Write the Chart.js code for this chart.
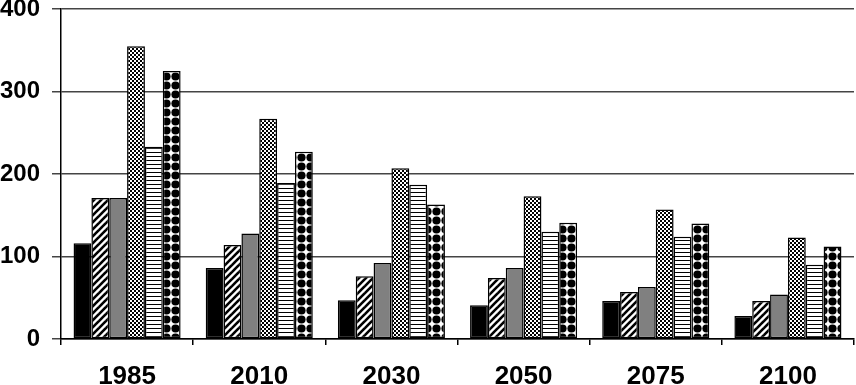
<!DOCTYPE html>
<html>
<head>
<meta charset="utf-8">
<script src="https://cdn.jsdelivr.net/npm/chart.js@4/dist/chart.umd.min.js"></script>
<style>
  html, body { margin: 0; padding: 0; background: #fff; }
  #wrap { width: 856px; height: 385px; }
</style>
</head>
<body>
<div id="wrap"><canvas id="chart" width="856" height="385"></canvas></div>
<script>
// data
const years = ['1985', '2010', '2030', '2050', '2075', '2100'];
const seriesA = [116, 86, 47, 41, 46, 28];       // solid black
const seriesB = [171, 114, 76, 74, 57, 46];      // diagonal hatch
const seriesC = [171, 128, 92, 86, 63, 54];      // solid grey
const seriesD = [355, 267, 207, 173, 157, 123];  // fine checker
const seriesE = [233, 189, 187, 130, 124, 90];   // horizontal lines
const seriesF = [325, 227, 163, 141, 140, 112];  // dots
const yTicks = [0, 100, 200, 300, 400];

function makePattern(size, draw) {
    const c = document.createElement('canvas');
    c.width = size; c.height = size;
    const ctx = c.getContext('2d');
    ctx.fillStyle = '#fff';
    ctx.fillRect(0, 0, size, size);
    ctx.fillStyle = '#000';
    ctx.strokeStyle = '#000';
    draw(ctx, size);
    return ctx.createPattern(c, 'repeat');
}

const hatch = makePattern(7, (ctx, s) => {
    ctx.lineWidth = 2.6;
    for (let k = -1; k <= 1; k++) {
        ctx.beginPath();
        ctx.moveTo(k * s - 1, s + 1);
        ctx.lineTo(k * s + s + 1, -1);
        ctx.stroke();
    }
});

const checker = makePattern(4, (ctx) => {
    ctx.fillRect(0, 0, 2, 2);
    ctx.fillRect(2, 2, 2, 2);
});

const hlines = makePattern(4, (ctx) => {
    ctx.fillRect(0, 0, 4, 1);
});

const dots = makePattern(9, (ctx) => {
    ctx.beginPath();
    ctx.arc(4.5, 4.5, 4.1, 0, Math.PI * 2);
    ctx.fill();
});

const fills = ['#000', hatch, '#808080', checker, hlines, dots];
const seriesList = [seriesA, seriesB, seriesC, seriesD, seriesE, seriesF];

const FAMILY = '"Liberation Sans", Arial, sans-serif';

new Chart(document.getElementById('chart'), {
    type: 'bar',
    data: {
        labels: years,
        datasets: seriesList.map((values, i) => ({
            data: values,
            backgroundColor: fills[i],
            borderColor: '#000',
            borderWidth: 1.5,
            borderSkipped: false,
            categoryPercentage: 0.81,
            barPercentage: 1.0
        }))
    },
    options: {
        responsive: false,
        animation: false,
        devicePixelRatio: 1,
        layout: { padding: { top: 9, right: 2, left: 0, bottom: 0 } },
        plugins: { legend: { display: false }, tooltip: { enabled: false } },
        scales: {
            x: {
                grid: {
                    offset: true,
                    drawOnChartArea: false,
                    drawTicks: true,
                    tickLength: 6,
                    color: '#000',
                    lineWidth: 1.5
                },
                border: { color: '#000', width: 1.5 },
                ticks: { color: '#000', font: { family: FAMILY, size: 26, weight: 'bold' }, padding: 16 },
                afterFit(scale) {
                    scale.height = 46;
                    scale.paddingLeft = 0;
                    scale.paddingRight = 0;
                }
            },
            y: {
                min: 0,
                max: 400,
                afterBuildTicks(scale) { scale.ticks = yTicks.map(v => ({ value: v })); },
                grid: { color: '#444', lineWidth: 1.5, tickLength: 9 },
                border: { color: '#000', width: 1.5 },
                ticks: { color: '#000', font: { family: FAMILY, size: 24, weight: 'bold' }, padding: 12 },
                afterFit(scale) {
                    scale.width = 61;
                    scale.paddingTop = 0;
                    scale.paddingBottom = 0;
                }
            }
        }
    }
});
</script>
</body>
</html>
